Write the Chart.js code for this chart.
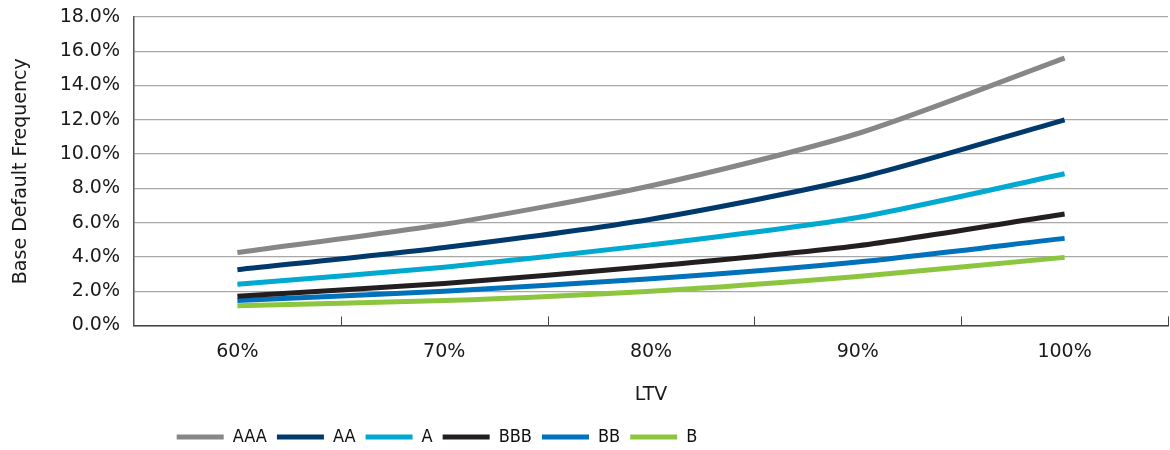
<!DOCTYPE html>
<html>
<head>
<meta charset="utf-8">
<script src="https://cdn.jsdelivr.net/npm/chart.js@4"></script>
<style>
  html, body { margin: 0; padding: 0; background: #fff; }
  #wrap { width: 1170px; height: 450px; }
</style>
</head>
<body>
<div id="wrap"><canvas id="ltvChart" width="1170" height="450"></canvas></div>
<script>
// LTV buckets and base default frequency (%) per rating
const ltvLabels = ['60%', '70%', '80%', '90%', '100%'];
const aaa = [4.25, 5.9, 8.15, 11.2, 15.6];
const aa  = [3.25, 4.55, 6.2, 8.6, 12.0];
const a   = [2.4, 3.4, 4.7, 6.3, 8.85];
const bbb = [1.7, 2.45, 3.45, 4.65, 6.5];
const bb  = [1.45, 2.0, 2.72, 3.7, 5.08];
const b   = [1.15, 1.45, 2.0, 2.86, 3.97];
const yTicks = [0, 2, 4, 6, 8, 10, 12, 14, 16, 18];

const sans = "'DejaVu Sans', Verdana, sans-serif";
const narrow = "'Liberation Sans Narrow', 'DejaVu Sans Condensed', sans-serif";

function serie(label, data, color) {
    return {
        label: label,
        data: data,
        borderColor: color,
        backgroundColor: color,
        borderWidth: 5,
        pointRadius: 0,
        pointHoverRadius: 0,
        tension: 0.25,
        fill: false
    };
}

// little tick marks pointing up from the x axis, at the category boundaries
const innerTicks = {
    id: 'innerTicks',
    afterDatasetsDraw(chart) {
        const x = chart.scales.x;
        const ctx = chart.ctx;
        const n = ltvLabels.length;
        const step = x.getPixelForValue(1) - x.getPixelForValue(0);
        ctx.save();
        ctx.strokeStyle = '#444';
        ctx.lineWidth = 1;
        for (let i = 1; i <= n; i++) {
            const px = Math.round(x.getPixelForValue(i - 1) + step / 2) + 0.5;
            ctx.beginPath();
            ctx.moveTo(px, x.top);
            ctx.lineTo(px, x.top - 9);
            ctx.stroke();
        }
        ctx.restore();
    }
};

// the legend sits left of centre and a bit lower in the original
const shiftLegend = {
    id: 'shiftLegend',
    afterLayout(chart) {
        const lg = chart.legend;
        const h = lg.bottom - lg.top;
        lg.left = 0;
        lg.right = 874;
        lg.top = 418;
        lg.bottom = 418 + h;
    }
};

new Chart(document.getElementById('ltvChart'), {
    type: 'line',
    data: {
        labels: ltvLabels,
        datasets: [
            serie('AAA', aaa, '#87878a'),
            serie('AA', aa, '#003a6c'),
            serie('A', a, '#00a9d0'),
            serie('BBB', bbb, '#231f20'),
            serie('BB', bb, '#0071bb'),
            serie('B', b, '#8cc63f')
        ]
    },
    options: {
        responsive: false,
        animation: false,
        layout: { padding: { top: 0, right: 2, left: 0, bottom: 0 } },
        plugins: {
            tooltip: { enabled: false },
            legend: {
                position: 'bottom',
                labels: {
                    boxWidth: 47,
                    boxHeight: 5,
                    padding: 10,
                    color: '#111',
                    font: { family: narrow, size: 18 },
                    generateLabels(chart) {
                        return chart.data.datasets.map((ds, i) => ({
                            text: ds.label,
                            fillStyle: ds.borderColor,
                            strokeStyle: ds.borderColor,
                            lineWidth: 0,
                            fontColor: '#111',
                            datasetIndex: i
                        }));
                    }
                }
            }
        },
        scales: {
            x: {
                offset: true,
                grid: { display: false, drawTicks: false },
                border: { display: true, color: '#444', width: 1.5 },
                ticks: { padding: 15, color: '#1a1a1a', font: { family: sans, size: 19 } },
                title: {
                    display: true,
                    text: 'LTV',
                    color: '#1a1a1a',
                    font: { family: sans, size: 19 },
                    padding: { top: 5, bottom: 6 }
                }
            },
            y: {
                min: 0,
                max: 18,
                afterFit(scale) {
                    scale.width = 134;
                    scale.paddingTop = 17;
                },
                afterBuildTicks(scale) { scale.ticks = yTicks.map(v => ({ value: v })); },
                grid: { color: '#a8a8a8', lineWidth: 1.2, drawTicks: false },
                border: { display: true, color: '#555', width: 1.5 },
                ticks: {
                    padding: 14,
                    color: '#1a1a1a',
                    font: { family: sans, size: 19 },
                    callback: v => v.toFixed(1) + '%'
                },
                title: {
                    display: true,
                    text: 'Base Default Frequency',
                    color: '#1a1a1a',
                    font: { family: sans, size: 19 },
                    padding: { top: 10, bottom: 0 }
                }
            }
        }
    },
    plugins: [innerTicks, shiftLegend]
});
</script>
</body>
</html>
